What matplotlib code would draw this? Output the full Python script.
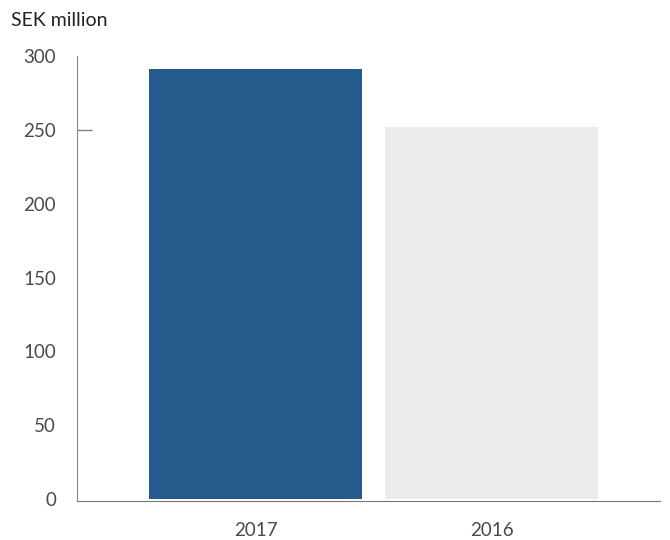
import matplotlib
matplotlib.use("Agg")
import matplotlib.pyplot as plt

years = ["2017", "2016"]
values = [291, 252]
colors = ["#255b8c", "#ebebeb"]
yticks = [0, 50, 100, 150, 200, 250, 300]

plt.rcParams["font.family"] = ["Lato", "DejaVu Sans"]

fig = plt.figure(figsize=(6.7, 5.4), dpi=100)
ax = fig.add_axes([0.115, 0.072, 0.87, 0.824])

x = list(range(len(years)))
ax.bar(x, values, width=0.9, color=colors, zorder=2)

ax.set_xlim(-0.756, 1.714)
ax.set_ylim(-1.5, 300)
ax.set_xticks(x)
ax.set_xticklabels(years)
ax.set_yticks(yticks)
ax.tick_params(axis="both", length=0, labelsize=13.5, labelcolor="#4a4a4a")
ax.tick_params(axis="y", pad=15)
ax.tick_params(axis="x", pad=15)

# single inward tick mark at 250
ax.yaxis.remove_overlapping_locs = False
ax.set_yticks([250], minor=True)
ax.tick_params(axis="y", which="minor", direction="in", length=11, width=1, color="#808080")

for side in ["top", "right"]:
    ax.spines[side].set_visible(False)
ax.spines["left"].set_color("#888888")
ax.spines["left"].set_bounds(-1.5, 300)
ax.spines["bottom"].set_color("#777777")

fig.text(0.016, 0.962, "SEK million", fontsize=14, color="#222222", va="center")

fig.savefig("out.png", dpi=100)
